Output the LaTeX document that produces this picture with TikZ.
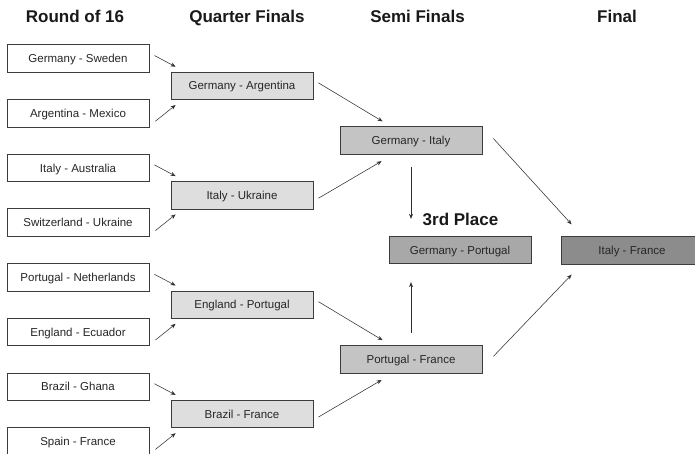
\documentclass[tikz,border=0pt]{standalone}
\usepackage{fontspec}
\setmainfont{Liberation Sans}
\usetikzlibrary{arrows.meta,calc}
\definecolor{bordc}{HTML}{3C3C3C}
\definecolor{txtc}{HTML}{262626}
\definecolor{linec}{HTML}{303030}
\definecolor{qfc}{HTML}{DEDEDE}
\definecolor{sfc}{HTML}{C4C4C4}
\definecolor{tpc}{HTML}{A8A8A8}
\definecolor{fic}{HTML}{8C8C8C}
\begin{document}
\begin{tikzpicture}[x=1pt,y=-1pt,
  box/.style={draw=bordc, line width=0.8pt, minimum width=142pt, minimum height=27.5pt,
    inner sep=0pt, text height=8.2pt, text depth=0pt,
    font=\fontsize{11.5}{13}\selectfont, text=txtc},
  r16/.style={box, fill=white},
  qf/.style={box, fill=qfc},
  sf/.style={box, fill=sfc},
  tp/.style={box, fill=tpc},
  fi/.style={box, fill=fic},
  hdr/.style={font=\fontsize{17}{20}\selectfont\bfseries, anchor=base, text=black!90, inner sep=0pt},
  conn/.style={draw=linec, line width=0.55pt, -{Stealth[length=5pt,width=4pt]}}]
\clip (0,0) rectangle (695,453);
\fill[white] (0,0) rectangle (695,453);

% headers
\node[hdr] (h1) at (75,22.5) {Round of 16};
\node[hdr] (h2) at (247,22.5) {Quarter Finals};
\node[hdr] (h3) at (417.5,22.5) {Semi Finals};
\node[hdr] (h4) at (617,22.5) {Final};
\node[hdr] (h5) at (460.5,225) {3rd Place};

% round of 16
\node[r16] (r1) at (78,58.5) {Germany - Sweden};
\node[r16] (r2) at (78,113.2) {Argentina - Mexico};
\node[r16] (r3) at (78,167.9) {Italy - Australia};
\node[r16] (r4) at (78,222.6) {Switzerland - Ukraine};
\node[r16] (r5) at (78,277.3) {Portugal - Netherlands};
\node[r16] (r6) at (78,332) {England - Ecuador};
\node[r16] (r7) at (78,386.7) {Brazil - Ghana};
\node[r16] (r8) at (78,441.4) {Spain - France};

% quarter finals
\node[qf] (q1) at (242,85.85) {Germany - Argentina};
\node[qf] (q2) at (242,195.25) {Italy - Ukraine};
\node[qf] (q3) at (242,304.65) {England - Portugal};
\node[qf] (q4) at (242,414.05) {Brazil - France};

% semi finals
\node[sf] (s1) at (411,140.55) {Germany - Italy};
\node[sf] (s2) at (411,359.35) {Portugal - France};

% third place and final
\node[tp] (tp) at (460,250) {Germany - Portugal};
\node[fi] (fi) at (632,250.5) {Italy - France};

% R16 -> QF
\foreach \a/\b/\q in {r1/r2/q1, r3/r4/q2, r5/r6/q3, r7/r8/q4}{
  \draw[conn] ($(\a.east)+(5,-3)$) -- ($(\q.north west)+(5,-5)$);
  \draw[conn] ($(\b.east)+(6,8)$) -- ($(\q.south west)+(5,5)$);
}

% QF -> SF
\draw[conn] ($(q1.east)+(5,-3)$) -- ($(s1.north west)+(43,-5)$);
\draw[conn] ($(q2.east)+(5,3)$) -- ($(s1.south west)+(42,6.5)$);
\draw[conn] ($(q3.east)+(5,-3)$) -- ($(s2.north west)+(43,-5)$);
\draw[conn] ($(q4.east)+(5,3)$) -- ($(s2.south west)+(42,6.5)$);

% SF -> final
\draw[conn] ($(s1.east)+(11,-2)$) -- ($(fi.north west)+(11,-12)$);
\draw[conn] ($(s2.east)+(11,-3)$) -- ($(fi.south west)+(11,10)$);

% SF -> third place
\draw[conn] ($(s1.south)+(0,12)$) -- ($(s1.south |- tp.north)+(0,-17)$);
\draw[conn] ($(s2.north)+(0,-12)$) -- ($(s2.north |- tp.south)+(0,18)$);
\end{tikzpicture}
\end{document}
